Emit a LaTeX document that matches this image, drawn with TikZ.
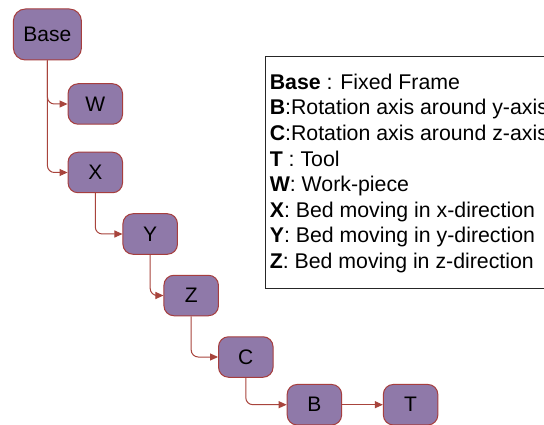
\documentclass[tikz,border=0pt]{standalone}
\usepackage{fontspec}
\setmainfont{Liberation Sans}
\usetikzlibrary{arrows.meta}
\definecolor{nodefill}{HTML}{8F79A9}
\definecolor{nodeedge}{HTML}{A63E3E}
\definecolor{linkred}{HTML}{A8443C}
\tikzset{
  frame/.style={draw=nodeedge, fill=nodefill, line width=1pt, rounded corners=10pt,
    minimum width=54.5pt, minimum height=40.5pt, inner sep=0pt,
    font=\fontsize{21}{25}\selectfont},
  bigframe/.style={frame, minimum width=68pt, minimum height=51pt, rounded corners=12pt},
  link/.style={draw=linkred, line width=1pt, rounded corners=7pt,
    -{Triangle[length=8pt,width=7pt]}},
  legendline/.style={anchor=base west, inner sep=0pt, font=\fontsize{21.3}{25}\selectfont},
}
\begin{document}
\begin{tikzpicture}[x=1pt, y=-1pt]
\useasboundingbox (0,0) rectangle (544,425);
\fill[white] (0,0) rectangle (544,425);

% kinematic chain
\node[bigframe] (base) at (47.4,34.5) {Base};
\node[frame] (w) at (95.3,104) {W};
\node[frame] (x) at (95.3,172.5) {X};
\node[frame] (y) at (150.2,234) {Y};
\node[frame] (z) at (191.2,295.5) {Z};
\node[frame] (c) at (245.8,357) {C};
\node[frame] (b) at (314.4,404.7) {B};
\node[frame] (t) at (410.6,404.7) {T};

\draw[link] (base.south) |- (w.west);
\draw[link] (base.south) |- (x.west);
\draw[link] (x.south) |- (y.west);
\draw[link] (y.south) |- (z.west);
\draw[link] (z.south) |- (c.west);
\draw[link] (c.south) |- (b.west);
\draw[link] (b.east) -- (t.west);

% legend
\draw[black!85, line width=1pt] (265.4,56.7) rectangle (570,288.7);
\node[legendline] (l1) at (269.6,89.3) {\textbf{Base} : Fixed Frame};
\node[legendline] (l2) at (269.6,114.9) {\textbf{B}:Rotation axis around y-axis};
\node[legendline] (l3) at (269.6,140.5) {\textbf{C}:Rotation axis around z-axis};
\node[legendline] (l4) at (269.6,166.1) {\textbf{T} : Tool};
\node[legendline] (l5) at (269.6,191.7) {\textbf{W}: Work-piece};
\node[legendline] (l6) at (269.6,217.3) {\textbf{X}: Bed moving in x-direction};
\node[legendline] (l7) at (269.6,242.9) {\textbf{Y}: Bed moving in y-direction};
\node[legendline] (l8) at (269.6,268.5) {\textbf{Z}: Bed moving in z-direction};
\end{tikzpicture}
\end{document}
